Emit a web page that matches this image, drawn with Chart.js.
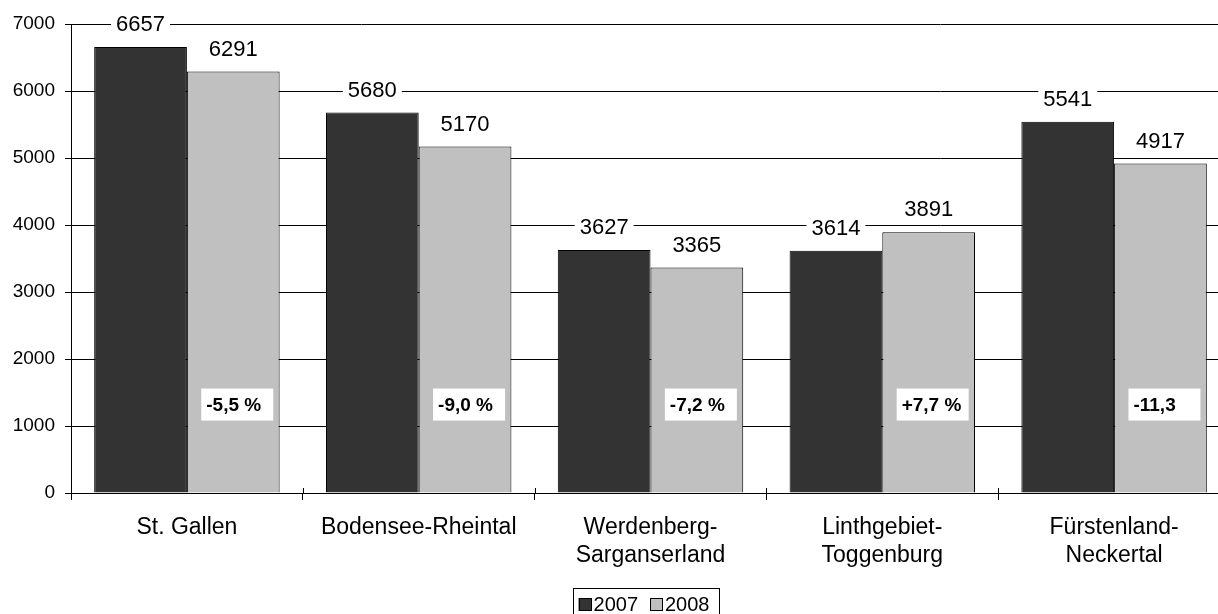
<!DOCTYPE html>
<html>
<head>
<meta charset="utf-8">
<script src="https://cdn.jsdelivr.net/npm/chart.js@4/dist/chart.umd.min.js"></script>
<style>
  html, body { margin: 0; padding: 0; background: #fff; overflow: hidden; }
  canvas { display: block; }
</style>
</head>
<body>
<canvas id="regionChart" width="1230" height="614"></canvas>
<script>
  const regions = ['St. Gallen', 'Bodensee-Rheintal', ['Werdenberg-', 'Sarganserland'], ['Linthgebiet-', 'Toggenburg'], ['Fürstenland-', 'Neckertal']];
  const values2007 = [6657, 5680, 3627, 3614, 5541];
  const values2008 = [6291, 5170, 3365, 3891, 4917];
  const changeLabels = ['-5,5 %', '-9,0 %', '-7,2 %', '+7,7 %', '-11,3'];
  const yTicks = [0, 1000, 2000, 3000, 4000, 5000, 6000, 7000];

  const FONT = '"Liberation Sans", Arial, sans-serif';
  const pctAnchor = 1320;

  // value labels above the bars, white box hides the grid line
  const valueLabels = {
    id: 'valueLabels',
    afterDatasetsDraw(chart) {
      const ctx = chart.ctx;
      const area = chart.chartArea;
      ctx.save();

      // small tick marks crossing the category axis
      const xs = chart.scales.x;
      const half = (xs.getPixelForValue(1) - xs.getPixelForValue(0)) / 2;
      ctx.strokeStyle = '#000';
      ctx.lineWidth = 1;
      for (let i = 0; i <= regions.length; i++) {
        const px = Math.round(xs.getPixelForValue(i) - half) + 0.5;
        ctx.beginPath();
        ctx.moveTo(px, area.bottom - 5);
        ctx.lineTo(px, area.bottom);
        ctx.stroke();
      }

      ctx.font = '22px ' + FONT;
      ctx.textAlign = 'center';
      ctx.textBaseline = 'middle';
      chart.data.datasets.forEach((ds, i) => {
        chart.getDatasetMeta(i).data.forEach((bar, j) => {
          const txt = String(ds.data[j]);
          const w = ctx.measureText(txt).width + 10;
          const cy = bar.y - 22;
          ctx.fillStyle = '#fff';
          ctx.fillRect(bar.x - w / 2, cy - 14, w, 28);
          ctx.fillStyle = '#000';
          ctx.fillText(txt, bar.x, cy);
        });
      });

      // change boxes on the 2008 bars
      const light = chart.getDatasetMeta(1).data;
      const y = chart.scales.y.getPixelForValue(pctAnchor);
      ctx.font = 'bold 19px ' + FONT;
      ctx.textAlign = 'left';
      changeLabels.forEach((txt, j) => {
        const bx = light[j].x + 4 - 36;
        ctx.fillStyle = '#fff';
        ctx.fillRect(bx, y - 16, 72, 32);
        ctx.fillStyle = '#000';
        ctx.fillText(txt, bx + 5, y + 1);
      });
      ctx.restore();
    },
    afterDraw(chart) {
      // framed legend below the axis labels
      const ctx = chart.ctx;
      const area = chart.chartArea;
      ctx.save();
      ctx.font = '20px ' + FONT;
      ctx.textBaseline = 'middle';
      const items = chart.data.datasets.map(ds => ({ label: ds.label, color: ds.backgroundColor }));
      let width = 6;
      items.forEach((it, k) => {
        width += 13 + 2 + ctx.measureText(it.label).width + (k < items.length - 1 ? 12 : 9);
      });
      const left = (area.left + area.right) / 2 - 5 - width / 2;
      const top = 588;
      ctx.fillStyle = '#fff';
      ctx.fillRect(left, top, width, 40);
      ctx.strokeStyle = '#000';
      ctx.lineWidth = 1;
      ctx.strokeRect(Math.round(left) + 0.5, top + 0.5, Math.round(width), 40);
      let x = left + 6;
      items.forEach((it, k) => {
        ctx.fillStyle = it.color;
        ctx.fillRect(x, 598, 13, 13);
        ctx.strokeRect(Math.round(x) + 0.5, 598.5, 12, 12);
        x += 15;
        ctx.fillStyle = '#000';
        ctx.fillText(it.label, x, 605);
        x += ctx.measureText(it.label).width + 12;
      });
      ctx.restore();
    }
  };

  new Chart(document.getElementById('regionChart'), {
    type: 'bar',
    data: {
      labels: regions,
      datasets: [{
        label: '2007',
        data: values2007,
        backgroundColor: '#333333',
        borderColor: '#000',
        borderWidth: 1,
        categoryPercentage: 0.8,
        barPercentage: 1.0
      }, {
        label: '2008',
        data: values2008,
        backgroundColor: '#c0c0c0',
        borderColor: '#000',
        borderWidth: 1,
        categoryPercentage: 0.8,
        barPercentage: 1.0
      }]
    },
    options: {
      responsive: false,
      animation: false,
      layout: { padding: { left: 0, right: 0, top: 24, bottom: 0 } },
      plugins: {
        legend: { display: false },
        tooltip: { enabled: false }
      },
      scales: {
        x: {
          grid: { display: true, drawOnChartArea: false, drawTicks: true, tickLength: 7, color: '#000', offset: true },
          border: { color: '#000', width: 1 },
          ticks: { font: { family: FONT, size: 23 }, color: '#000', padding: 14, maxRotation: 0, autoSkip: false },
          afterFit(scale) { scale.height = 121; }
        },
        y: {
          min: 0,
          max: 7000,
          afterBuildTicks(scale) { scale.ticks = yTicks.map(v => ({ value: v })); },
          ticks: { font: { family: FONT, size: 19 }, color: '#000', padding: 10, callback: v => String(v) },
          grid: { color: '#000', tickLength: 6 },
          border: { color: '#000', width: 1 },
          afterFit(scale) { scale.width = 71; }
        }
      }
    },
    plugins: [valueLabels]
  });
</script>
</body>
</html>
